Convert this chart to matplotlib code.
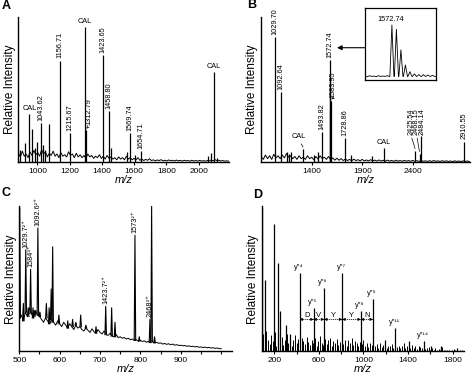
import numpy as np
import matplotlib
matplotlib.use("Agg")
import matplotlib.pyplot as plt

plt.rcParams['font.family'] = ['Liberation Sans', 'DejaVu Sans']

# ---- panel A: peptide mass fingerprint with calibrants
A_MZ = [891, 922, 949, 968, 984, 995, 1024, 1036, 1047, 1073, 1142, 1202, 1295, 1304,
        1409, 1444, 1456, 1554, 1575, 1606, 1643, 2061, 2076, 2094, 2113]
A_INT = [0.08, 0.13, 0.33, 0.23, 0.10, 0.14, 0.27, 0.12, 0.08, 0.26, 0.70, 0.20, 0.93, 0.22,
         0.74, 0.35, 0.10, 0.07, 0.20, 0.05, 0.075, 0.04, 0.06, 0.62, 0.03]
A_LABELS = ["", "", "CAL", "", "", "", "1043.62", "", "", "", "1156.71", "1215.67", "CAL", "1312.79",
            "1423.65", "1458.80", "", "", "1569.74", "", "1654.71", "", "", "CAL", ""]
A_NOISE_RANGE = (882, 2186)
A_NOISE = [60, 35, 75, 40, 55, 30, 70, 45, 80, 50,
           65, 40, 85, 55, 70, 35, 60, 45, 75, 40,
           55, 30, 65, 40, 50, 35, 70, 45, 55, 30,
           60, 35, 50, 30, 45, 25, 55, 35, 45, 25,
           40, 30, 50, 25, 40, 20, 45, 25, 35, 20,
           30, 15, 35, 20, 30, 15, 40, 20, 30, 15,
           25, 15, 30, 12, 20, 10, 18, 12, 22, 10,
           15, 8, 14, 10, 16, 8, 12, 7, 14, 9,
           12, 7, 13, 8, 11, 6, 12, 8, 10, 6,
           12, 7, 10, 6, 11, 7, 9, 6, 10, 7,
           14, 8, 16, 9, 12, 7, 10, 6, 8, 6]

# ---- panel B
B_MZ = [1029.7, 1092.6, 1150, 1165, 1190, 1312, 1420, 1455, 1493.8, 1572.7, 1573.7, 1574.7,
        1584.0, 1728.9, 1790, 1990, 2111, 2425.5, 2468.2, 2484.1, 2910.6]
B_INT = [0.86, 0.48, 0.07, 0.06, 0.07, 0.09, 0.05, 0.07, 0.21, 0.70, 0.58, 0.36,
         0.42, 0.165, 0.05, 0.04, 0.10, 0.08, 0.06, 0.18, 0.142]
B_LABELS = ["1029.70", "1092.64", "", "", "", "CAL", "", "", "1493.82", "1572.74", "", "",
            "1583.95", "1728.86", "", "", "CAL", "2425.54", "2468.15", "2484.14", "2910.55"]
B_NOISE_RANGE = (892, 2965)
B_NOISE = [40, 20, 50, 25, 45, 20, 55, 30, 45, 25,
           50, 30, 60, 35, 45, 25, 40, 20, 45, 25,
           35, 20, 45, 25, 35, 18, 40, 22, 45, 25,
           35, 20, 40, 18, 30, 15, 28, 14, 25, 12,
           22, 12, 20, 10, 22, 12, 18, 10, 20, 10,
           16, 9, 18, 10, 15, 8, 16, 9, 14, 8,
           15, 8, 13, 7, 14, 8, 12, 7, 13, 8,
           12, 7, 13, 7, 11, 6, 12, 7, 10, 6,
           11, 6, 12, 7, 10, 6, 11, 6, 10, 6,
           9, 5, 10, 6, 9, 5, 10, 6, 9, 5]

# inset of B: isotope cluster of 1572.74
INSET_MZ = [1572.74, 1573.74, 1574.74, 1575.74, 1576.74, 1577.74, 1578.74, 1579.74, 1580.74, 1581.74]
INSET_INT = [0.767, 0.707, 0.42, 0.21, 0.116, 0.085, 0.075, 0.075, 0.07, 0.065]
INSET_PRE = [0.055, 0.045, 0.06, 0.05, 0.055, 0.045, 0.06, 0.05, 0.055, 0.05, 0.06, 0.05]

# ---- panel C: ESI spectrum, multiply charged ions
C_MZ = [501, 510, 516, 522, 528, 534, 539, 546, 551, 567, 574, 579, 582.6, 598, 620, 632,
        640, 652, 665, 690, 714, 728.7, 737, 786.4, 797, 823.5, 827.7, 835]
C_INT = [0.99, 0.33, 0.70, 0.30, 0.565, 0.30, 0.24, 0.85, 0.27, 0.33, 0.30, 0.43, 0.72, 0.25,
         0.21, 0.22, 0.20, 0.25, 0.18, 0.17, 0.31, 0.30, 0.20, 0.80, 0.10, 0.22, 1.0, 0.10]
C_LABELS = ["", "", "1029.7²⁺", "", "1584³⁺", "", "", "1092.6²⁺", "", "", "", "", "", "",
            "", "", "", "", "", "", "1423.7²⁺", "", "", "1573²⁺", "", "2468³⁺", "2484³⁺", ""]
C_NOISE_RANGE = (500, 1000)
C_NOISE = [230, 250, 210, 270, 240, 300, 260, 230, 280, 250,
           240, 220, 200, 230, 210, 190, 220, 200, 180, 210,
           190, 170, 200, 180, 160, 190, 170, 150, 180, 160,
           170, 150, 140, 160, 145, 130, 155, 135, 125, 150,
           130, 120, 140, 115, 110, 125, 105, 100, 115, 95,
           100, 90, 95, 85, 90, 80, 85, 75, 80, 70,
           75, 68, 72, 62, 70, 60, 66, 58, 62, 55,
           58, 50, 54, 48, 52, 45, 50, 42, 46, 40,
           42, 38, 40, 34, 38, 32, 35, 30, 33, 28,
           30, 26, 29, 24, 27, 22, 25, 20, 23, 19,
           18]

# ---- panel D: MS/MS with y'' ion ladder
D_MZ = [92, 120, 195, 233, 248, 305, 343, 428, 553, 648, 810, 977, 1085, 1195, 1285, 1410,
        1545, 1610, 1700, 1840]
D_INT = [0.99, 0.49, 0.88, 0.61, 0.28, 0.18, 0.12, 0.54, 0.30, 0.44, 0.54, 0.28, 0.36, 0.08,
         0.16, 0.07, 0.074, 0.035, 0.04, 0.025]
D_LABELS = ["", "", "", "", "", "", "", "y″⁴", "y″⁵", "y″⁶", "y″⁷", "y″⁸", "y″⁹", "",
            "y″¹¹", "", "y″¹⁴", "", "", ""]
D_RESIDUES = ["D", "V", "Y", "Y", "N"]
D_NOISE_RANGE = (100, 1900)
D_NOISE = [120, 60, 140, 80, 50, 110, 70, 130, 40, 90,
           60, 100, 45, 80, 120, 55, 90, 40, 75, 110,
           60, 85, 40, 95, 70, 50, 100, 65, 45, 80,
           55, 90, 40, 70, 105, 60, 45, 85, 50, 75,
           95, 40, 70, 55, 85, 45, 65, 100, 50, 75,
           40, 80, 60, 90, 45, 70, 55, 35, 65, 50,
           80, 40, 60, 30, 55, 45, 70, 35, 50, 25,
           60, 30, 45, 55, 25, 40, 35, 50, 20, 45,
           30, 40, 20, 35, 55, 25, 40, 30, 20, 45,
           25, 35, 15, 40, 30, 20, 35, 15, 25, 30,
           12, 20, 10, 25, 8, 15, 10, 30, 8, 12,
           6, 10, 5, 8, 15, 6, 8, 5, 10, 6,
           5]

LABEL_FS = 5.3
TICK_FS = 6


def style_axes(ax, xlim, major, minor=None):
    ax.set_xlim(*xlim)
    ax.set_ylim(0, 1)
    ax.set_yticks([])
    ax.set_xticks(major)
    if minor is not None:
        ax.set_xticks(minor, minor=True)
    for s in ['top', 'right']:
        ax.spines[s].set_visible(False)
    for s in ['left', 'bottom']:
        ax.spines[s].set_linewidth(1.0)
    ax.tick_params(axis='x', which='both', direction='out', length=2.5, width=0.8,
                   labelsize=TICK_FS, pad=1.5)
    ax.set_xlabel("m/z", style='italic', fontsize=8, labelpad=0)
    ax.set_ylabel("Relative Intensity", fontsize=8.5, labelpad=2)


def noise_x(rng, vals):
    return np.linspace(rng[0], rng[1], len(vals))


def label_peaks(ax, mz, inten, labels, offsets):
    for i, (m, h, lab) in enumerate(zip(mz, inten, labels)):
        if not lab:
            continue
        rot = 0 if lab == "CAL" else 90
        if i in offsets:
            tx, ty, style = offsets[i]
            ax.annotate(lab, xy=(m, h + 0.01), xytext=(tx, ty), rotation=rot,
                        ha='center', va='bottom', fontsize=LABEL_FS,
                        arrowprops=dict(arrowstyle=style, lw=0.5, color='k', relpos=(0.5, 0),
                                        shrinkA=0.5, shrinkB=0.5, mutation_scale=4))
        elif lab == "CAL":
            ax.text(m, h + 0.012, lab, ha='center', va='bottom', fontsize=LABEL_FS)
        else:
            ax.text(m, h + 0.015, lab, rotation=90, ha='center', va='bottom', fontsize=LABEL_FS)


def draw_a(ax):
    ax.plot(noise_x(A_NOISE_RANGE, A_NOISE), np.array(A_NOISE) / 1000, color='k', lw=0.7)
    ax.vlines(A_MZ, 0, A_INT, color='k', lw=0.9)
    label_peaks(ax, A_MZ, A_INT, A_LABELS, {13: (1322, 0.255, '->')})
    style_axes(ax, (881, 2189), range(1000, 2001, 200))


def draw_b(ax, fig):
    ax.plot(noise_x(B_NOISE_RANGE, B_NOISE), np.array(B_NOISE) / 1000, color='k', lw=0.7)
    ax.vlines(B_MZ, 0, B_INT, color='k', lw=0.9)
    offsets = {5: (1270, 0.15, '-'), 12: (1605, 0.44, '->'),
               17: (2380, 0.19, '-'), 18: (2438, 0.19, '-'), 19: (2496, 0.19, '-')}
    label_peaks(ax, B_MZ, B_INT, B_LABELS, offsets)
    style_axes(ax, (890, 2970), [1400, 1900, 2400])
    ax.annotate('', xy=(1646, 0.787), xytext=(2127, 0.787), annotation_clip=False,
                arrowprops=dict(arrowstyle='-|>', lw=0.8, color='k', mutation_scale=7,
                                shrinkA=0, shrinkB=0))

    ins = fig.add_axes([364.7 / 474, 1 - 80 / 376, 71.6 / 474, 71.7 / 376])
    xs = list(np.linspace(1566.8, 1572.2, len(INSET_PRE)))
    ys = list(INSET_PRE)
    base = 0.05
    for m, h in zip(INSET_MZ, INSET_INT):
        xs += [m - 0.45, m, m + 0.45]
        ys += [base, h, base]
    xs.append(1582.6)
    ys.append(base)
    ins.plot(xs, ys, color='k', lw=0.6)
    ins.set_xlim(1566.7, 1582.6)
    ins.set_ylim(0, 1)
    ins.set_xticks([])
    ins.set_yticks([])
    for s in ins.spines.values():
        s.set_linewidth(0.9)
    ins.text(1572.4, 0.85, "1572.74", ha='center', va='center', fontsize=LABEL_FS)


def draw_c(ax):
    nx = noise_x(C_NOISE_RANGE, C_NOISE)
    ny = np.array(C_NOISE) / 1000
    ax.plot(nx, ny, color='k', lw=0.7)
    for m, h in zip(C_MZ, C_INT):
        b = ny[np.argmin(np.abs(nx - m))]
        ax.plot([m - 1.8, m, m + 1.8], [b, h, b], color='k', lw=0.8)
    label_peaks(ax, C_MZ, C_INT, C_LABELS, {26: (833, 0.86, '-')})
    style_axes(ax, (500, 1026), range(500, 901, 100), range(500, 1001, 50))


def draw_d(ax):
    ax.vlines(noise_x(D_NOISE_RANGE, D_NOISE), 0, np.array(D_NOISE) / 1000, color='k', lw=0.7)
    ax.vlines(D_MZ, 0, D_INT, color='k', lw=0.9)
    for m, h, lab in zip(D_MZ, D_INT, D_LABELS):
        if lab:
            ax.text(m - 10, h + 0.012, lab, ha='center', va='bottom', fontsize=LABEL_FS)
    ladder = [m for m, lab in zip(D_MZ, D_LABELS) if lab][:6]
    for (x1, x2), res in zip(zip(ladder[:-1], ladder[1:]), D_RESIDUES):
        ax.plot([x1, x2], [0.22, 0.22], color='k', lw=0.5, ls=(0, (2, 1)))
        ax.annotate('', xy=(x2, 0.22), xytext=(x2 - 20, 0.22),
                    arrowprops=dict(arrowstyle='-|>', lw=0.5, color='k', mutation_scale=4,
                                    shrinkA=0, shrinkB=0))
        ax.annotate('', xy=(x1, 0.22), xytext=(x1 + 20, 0.22),
                    arrowprops=dict(arrowstyle='-|>', lw=0.5, color='k', mutation_scale=4,
                                    shrinkA=0, shrinkB=0))
        ax.text((x1 + x2) / 2, 0.25, res, ha='center', va='center', fontsize=5.5)
    style_axes(ax, (90, 1900), range(200, 1801, 400), range(200, 1801, 200))


def main():
    fig = plt.figure(figsize=(4.74, 3.76), dpi=100)
    ax_a = fig.add_axes([18.3 / 474, 1 - 162 / 376, 210.7 / 474, 145 / 376])
    ax_b = fig.add_axes([261 / 474, 1 - 162.3 / 376, 209 / 474, 145.6 / 376])
    ax_c = fig.add_axes([19.3 / 474, 1 - 351.3 / 376, 212.4 / 474, 145 / 376])
    ax_d = fig.add_axes([262 / 474, 1 - 351.3 / 376, 201.7 / 474, 145 / 376])
    draw_a(ax_a)
    draw_b(ax_b, fig)
    draw_c(ax_c)
    draw_d(ax_d)
    for letter, x, y in [("A", 2, 6), ("B", 247, 5), ("C", 2, 193), ("D", 253, 195)]:
        fig.text(x / 474, 1 - y / 376, letter, fontsize=9, fontweight='bold', ha='left', va='center')
    fig.savefig("out.png", dpi=100)


if __name__ == '__main__':
    main()
